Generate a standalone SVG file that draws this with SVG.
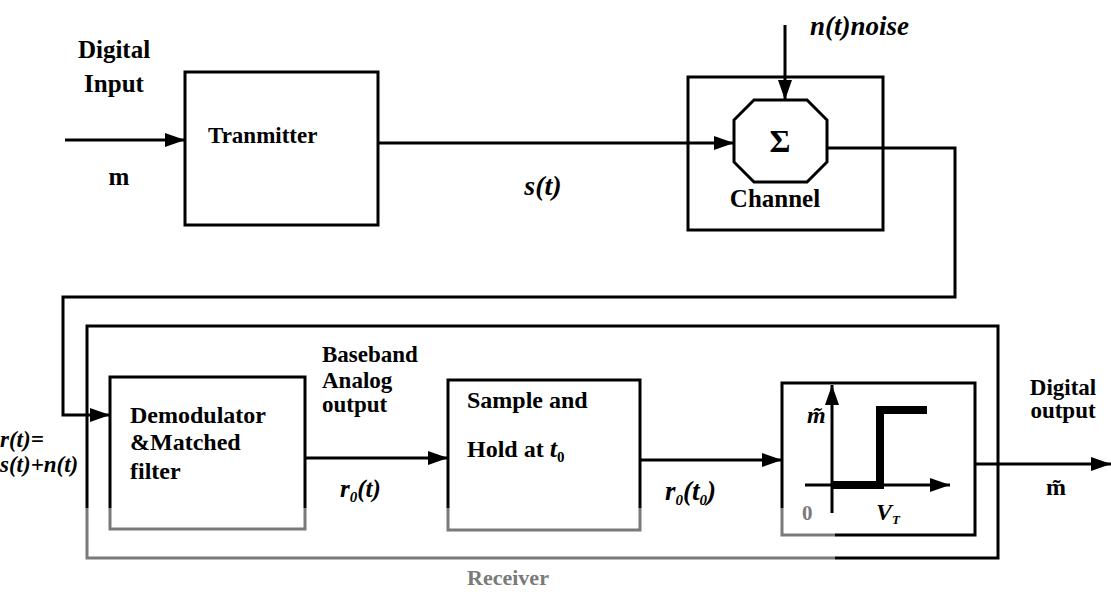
<svg xmlns="http://www.w3.org/2000/svg" width="1111" height="595" viewBox="0 0 1111 595">
<style>
.box{fill:none;stroke:#000;stroke-width:3;stroke-linejoin:miter}
.fade{fill:none;stroke:#7a7a7a;stroke-width:3}
.wire{fill:none;stroke:#000;stroke-width:3}
text{font-family:'Liberation Serif','DejaVu Serif',serif;font-weight:bold;fill:#000}
.lbl{font-size:23px}
.it{font-style:italic}
.sub{font-size:15px}
.gray{fill:#7a7a7a}
</style>
<defs>
<marker id="arr" viewBox="0 0 20 14" refX="20" refY="7" markerWidth="20" markerHeight="14" markerUnits="userSpaceOnUse" orient="auto">
<path d="M0,0 L20,7 L0,14 Z" fill="#000"/>
</marker>
</defs>
<rect width="1111" height="595" fill="#fff"/>

<g id="connectors">
<path class="wire" d="M65,140 H185" marker-end="url(#arr)"/>
<path class="wire" d="M378,143 H734" marker-end="url(#arr)"/>
<path class="wire" d="M785,25 V100" marker-end="url(#arr)"/>
<path class="wire" d="M827,148 H955 V297 H63 V415 H110" marker-end="url(#arr)"/>
<path class="wire" d="M305,458 H448" marker-end="url(#arr)"/>
<path class="wire" d="M640,460 H782" marker-end="url(#arr)"/>
<path class="wire" d="M975,464 H1111" marker-end="url(#arr)"/>
</g>

<g id="input-label">
<text x="114" y="58" style="font-size:25px" text-anchor="middle">Digital</text>
<text x="114" y="92" style="font-size:25px" text-anchor="middle">Input</text>
<text x="119" y="185" style="font-size:25px" text-anchor="middle">m</text>
</g>

<g id="transmitter">
<rect class="box" x="185" y="72" width="193" height="153"/>
<text class="lbl" x="208" y="143">Tranmitter</text>
</g>

<g id="signal-label">
<text class="it" x="543" y="195" style="font-size:28px" text-anchor="middle">s(t)</text>
</g>

<g id="noise-label">
<text class="it" x="810" y="35" style="font-size:27px">n(t)noise</text>
</g>

<g id="channel">
<rect class="box" x="688" y="77" width="195" height="153"/>
<polygon class="box" points="754,100 807,100 827,120 827,162 807,182 754,182 734,162 734,120"/>
<text x="780" y="152" style="font-size:32px" text-anchor="middle">Σ</text>
<text x="775" y="207" style="font-size:25px" text-anchor="middle">Channel</text>
</g>

<g id="receiver">
<path class="box" d="M87,508 V326 H998 V558 H835"/>
<path class="fade" d="M835,558 H87 V508"/>
<text class="gray" x="508" y="585" style="font-size:22px" text-anchor="middle">Receiver</text>
</g>

<g id="rt-label">
<text class="it" x="0" y="447" style="font-size:23px">r(t)=</text>
<text class="it" x="0" y="472" style="font-size:23px">s(t)+n(t)</text>
</g>

<g id="demodulator">
<path class="box" d="M110,508 V377 H305 V508"/>
<path class="fade" d="M305,508 V529 H110 V508"/>
<text x="130" y="423" style="font-size:24px">Demodulator</text>
<text x="130" y="450" style="font-size:24px">&amp;Matched</text>
<text x="130" y="479" style="font-size:24px">filter</text>
</g>

<g id="baseband-label">
<text x="322" y="362" style="font-size:23px">Baseband</text>
<text x="322" y="388" style="font-size:23px">Analog</text>
<text x="322" y="412" style="font-size:23px">output</text>
<text class="it" x="340" y="497" style="font-size:25px">r<tspan class="sub" dy="5">0</tspan><tspan dy="-5">(t)</tspan></text>
</g>

<g id="sample-hold">
<path class="box" d="M448,508 V380 H640 V508"/>
<path class="fade" d="M640,508 V530 H448 V508"/>
<text x="467" y="408" style="font-size:24px">Sample and</text>
<text x="467" y="457" style="font-size:24px">Hold at <tspan class="it" style="font-size:26px">t</tspan><tspan class="sub" dy="5">0</tspan></text>
</g>

<g id="sampled-label">
<text class="it" x="665" y="500" style="font-size:27px">r<tspan class="sub" dy="5">0</tspan><tspan dy="-5">(t</tspan><tspan class="sub" dy="5">0</tspan><tspan dy="-5">)</tspan></text>
</g>

<g id="threshold">
<path class="box" d="M782,508 V383 H975 V535 H835"/>
<path class="fade" d="M835,535 H782 V508"/>
<path class="wire" d="M832,513 V385" marker-end="url(#arr)"/>
<path class="wire" d="M805,485 H950" marker-end="url(#arr)"/>
<path d="M832,485 H880 V410 H927" fill="none" stroke="#000" stroke-width="8"/>
<text class="it" x="807" y="423" style="font-size:24px">m̃</text>
<text class="gray" x="802" y="520" style="font-size:21px">0</text>
<text class="it" x="876" y="520" style="font-size:24px">V<tspan style="font-size:13px" dy="4">T</tspan></text>
</g>

<g id="output-label">
<text x="1063" y="395" style="font-size:23px" text-anchor="middle">Digital</text>
<text x="1063" y="418" style="font-size:23px" text-anchor="middle">output</text>
<text x="1056" y="495" style="font-size:24px" text-anchor="middle">m̃</text>
</g>
</svg>
